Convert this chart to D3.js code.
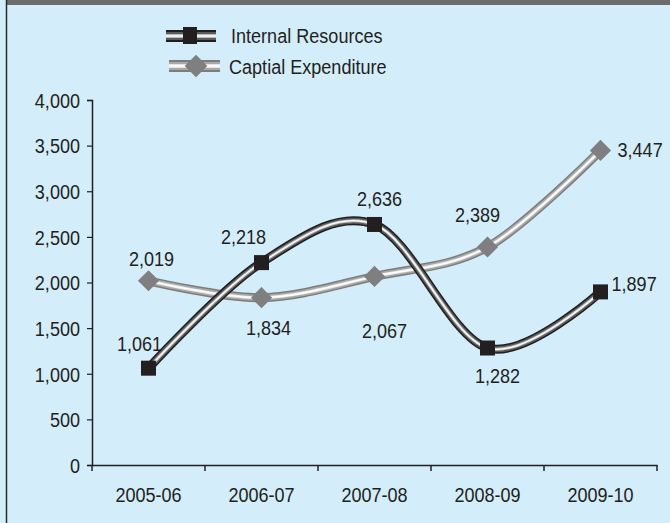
<!DOCTYPE html>
<html lang="en">
<head>
<meta charset="utf-8">
<title>Internal Resources vs Capital Expenditure</title>
<style>
    body { margin: 0; background: #d3eefa; }
    svg { display: block; }
    text { font-family: "Liberation Sans", Arial, sans-serif; fill: #231f20; }
</style>
</head>
<body>
<svg id="chart" width="670" height="523"></svg>
<script src="https://d3js.org/d3.v7.min.js"></script>
<script>
    // data
    const years = ["2005-06", "2006-07", "2007-08", "2008-09", "2009-10"];
    const internalResources = [1061, 2218, 2636, 1282, 1897];
    const capitalExpenditure = [2019, 1834, 2067, 2389, 3447];
    const yTicks = [0, 500, 1000, 1500, 2000, 2500, 3000, 3500, 4000];
    const seriesNames = ["Internal Resources", "Captial Expenditure"];
    // label placement relative to its marker: [dx, dy, anchor]
    const irLabelPos = [[-9, -17, "middle"], [-18, -19, "middle"], [5, -18, "middle"], [10, 35, "middle"], [11, -1, "start"]];
    const ceLabelPos = [[3, -15, "middle"], [7, 37, "middle"], [10, 62, "middle"], [-10, -25, "middle"], [17, 7, "start"]];

    const svg = d3.select("#chart");
    const W = 670, H = 523;
    const margin = {left: 92, right: 13, top: 100, bottom: 58};
    const fs = "21px";
    const sx = 0.86; // the original font is a condensed one

    // frame: dark strip on top, border on the left
    svg.append("rect").attr("x", 6).attr("y", 0).attr("width", W - 6).attr("height", 5).attr("fill", "#6d6d6d");
    svg.append("line").attr("x1", 6.5).attr("x2", 6.5).attr("y1", 0).attr("y2", H)
        .attr("stroke", "#2b2b2b").attr("stroke-width", 1.5);

    const x = d3.scaleBand().domain(years).range([margin.left, W - margin.right]);
    const y = d3.scaleLinear().domain([0, 4000]).range([H - margin.bottom, margin.top]);
    const cx = d => x(d) + x.bandwidth() / 2;

    // text squeezed horizontally around its anchor point
    function addText(g, tx, ty, str, anchor, size) {
        return g.append("text")
            .attr("transform", "translate(" + tx + "," + ty + ") scale(" + sx + ",1)")
            .attr("text-anchor", anchor)
            .style("font-size", size || fs)
            .text(str);
    }

    // axes
    const yAxis = svg.append("g")
        .attr("transform", "translate(" + margin.left + ",0)")
        .call(d3.axisLeft(y).tickValues(yTicks).tickSize(5).tickPadding(7).tickFormat(d3.format(",")));
    const xAxis = svg.append("g")
        .attr("transform", "translate(0," + y(0) + ")")
        .call(d3.axisBottom(x).tickSize(0).tickPadding(22));
    // x ticks sit between categories
    xAxis.selectAll(".bound")
        .data(years.concat(["end"]))
        .enter().append("line")
        .attr("x1", (d, i) => margin.left + i * x.bandwidth())
        .attr("x2", (d, i) => margin.left + i * x.bandwidth())
        .attr("y1", 0).attr("y2", 6)
        .attr("stroke", "#231f20").attr("stroke-width", 1.5);
    [yAxis, xAxis].forEach(a => {
        a.select(".domain").attr("stroke", "#231f20").attr("stroke-width", 1.5);
        a.selectAll(".tick line").attr("stroke", "#231f20").attr("stroke-width", 1.2);
        a.selectAll("text").style("font-size", fs).attr("fill", "#231f20")
            .attr("transform", "scale(" + sx + ",1)");
    });
    yAxis.selectAll(".tick text").attr("x", -12 / sx).attr("dy", "0.35em");

    const line = d3.line().x((d, i) => cx(years[i])).y(d => y(d)).curve(d3.curveCardinal);

    // tube look: wide dark stroke, then lighter, then a white highlight
    function tube(values, layers) {
        layers.forEach(l => {
            svg.append("path").datum(values).attr("d", line)
                .attr("fill", "none").attr("stroke", l[0]).attr("stroke-width", l[1])
                .attr("stroke-linecap", "round");
        });
    }
    const ceLayers = [["#7d7d7d", 9], ["#a9a9a9", 6], ["#e6e6e6", 3], ["#ffffff", 1.3]];
    const irLayers = [["#1f1f1f", 9], ["#5a5a5a", 6], ["#bdbdbd", 3], ["#ffffff", 1.3]];
    tube(capitalExpenditure, ceLayers);
    tube(internalResources, irLayers);

    // markers
    svg.selectAll(".ce").data(capitalExpenditure).enter().append("rect")
        .attr("class", "ce")
        .attr("x", -7.5).attr("y", -7.5).attr("width", 15).attr("height", 15)
        .attr("transform", (d, i) => "translate(" + cx(years[i]) + "," + y(d) + ") rotate(45)")
        .attr("fill", "#7f7f7f");
    svg.selectAll(".ir").data(internalResources).enter().append("rect")
        .attr("class", "ir")
        .attr("x", (d, i) => cx(years[i]) - 7.5).attr("y", d => y(d) - 7.5)
        .attr("width", 15).attr("height", 15)
        .attr("fill", "#231f20");

    // value labels
    function labels(values, pos) {
        values.forEach((v, i) => {
            const o = pos[i];
            addText(svg, cx(years[i]) + o[0], y(v) + o[1], d3.format(",")(v), o[2]);
        });
    }
    labels(internalResources, irLabelPos);
    labels(capitalExpenditure, ceLabelPos);

    // legend
    const legend = svg.append("g");
    const lg = [[irLayers, "square", 166, 216, 36, 190], [ceLayers, "diamond", 169, 220, 66, 196]];
    const legendLayers = l => [[l[0][0], 12], [l[1][0], 8], [l[2][0], 4], ["#ffffff", 1.5]];
    seriesNames.forEach((name, i) => {
        const [layers, shape, x0, x1, ly, mx] = lg[i];
        legendLayers(layers).forEach(l => {
            legend.append("line").attr("x1", x0).attr("x2", x1).attr("y1", ly).attr("y2", ly)
                .attr("stroke", l[0]).attr("stroke-width", l[1]);
        });
        if (shape === "square") {
            legend.append("rect").attr("x", mx - 7).attr("y", ly - 9).attr("width", 14).attr("height", 17)
                .attr("fill", "#231f20");
        } else {
            legend.append("rect").attr("x", -8).attr("y", -8).attr("width", 16).attr("height", 16)
                .attr("transform", "translate(" + mx + "," + ly + ") rotate(45)")
                .attr("fill", "#7f7f7f");
        }
        addText(legend, i === 0 ? 231 : 229, i === 0 ? 43 : 74, name, "start", "21px");
    });
</script>
</body>
</html>
